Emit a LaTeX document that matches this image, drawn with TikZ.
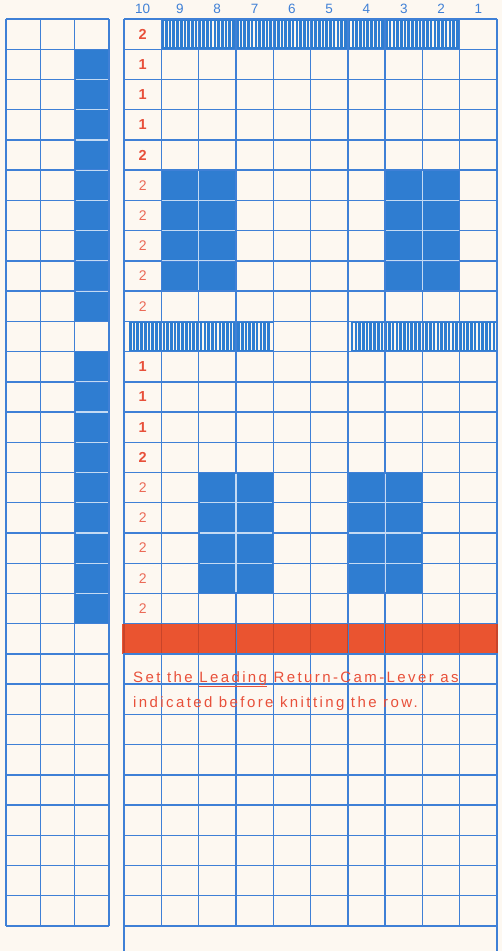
\documentclass[tikz,border=0pt]{standalone}
\usepackage{fontspec}
\setmainfont{Liberation Sans}
\newfontfamily\notefont[LetterSpace=16]{Liberation Sans}
\definecolor{paper}{HTML}{FDF8F1}
\definecolor{gridblue}{HTML}{3F80D6}
\definecolor{fillblue}{HTML}{2F7DD1}
\definecolor{barred}{HTML}{EA5430}
\definecolor{barline}{HTML}{C8442A}
\definecolor{inkred}{HTML}{E8503A}
\definecolor{lightline}{HTML}{C4DAF3}
\begin{document}
\begin{tikzpicture}[x=1pt,y=-1pt,
  gridline/.style={gridblue, line width=1.4pt},
  innerline/.style={lightline, line width=1.2pt},
  redline/.style={barline, line width=1.1pt},
  colnum/.style={text=gridblue, font=\fontsize{13.5}{14}\selectfont, inner sep=0pt},
  rowlbl/.style={text=inkred, font=\fontsize{14.5}{15}\selectfont\bfseries, inner sep=0pt},
  rowlbllight/.style={text=inkred!85, font=\fontsize{14}{14}\selectfont, inner sep=0pt},
  notetext/.style={text=inkred, font=\notefont\fontsize{15}{15}\selectfont, inner sep=0pt, anchor=base west}]
\def\T{19}\def\H{30.233}\def\L{124}\def\W{37.3}\def\R{497}\def\B{926}
\def\LL{6}\def\LW{34.333}
\useasboundingbox (0,0) rectangle (502,951);
\fill[paper] (0,0) rectangle (502,951);
% left grid blue column
\fill[fillblue] (\LL+2*\LW,\T+\H) rectangle (\LL+3*\LW,\T+10*\H);
\fill[fillblue] (\LL+2*\LW,\T+11*\H) rectangle (\LL+3*\LW,\T+20*\H);
% right grid blue blocks
\fill[fillblue] (\L+\W,\T+5*\H) rectangle (\L+3*\W,\T+9*\H);
\fill[fillblue] (\L+7*\W,\T+5*\H) rectangle (\L+9*\W,\T+9*\H);
\fill[fillblue] (\L+2*\W,\T+15*\H) rectangle (\L+4*\W,\T+19*\H);
\fill[fillblue] (\L+6*\W,\T+15*\H) rectangle (\L+8*\W,\T+19*\H);
% hatched rows
\foreach \i in {0,...,79}
  \fill[fillblue] ({\L+\W+\i*\W/10},\T) rectangle ++(2.6,\H);
\fill[fillblue] (\L+\W,\T-0.8) rectangle (\L+9*\W,\T+1.8);
\fill[fillblue] (\L+\W,\T+\H-1.8) rectangle (\L+9*\W,\T+\H+0.8);
\foreach \i in {0,...,37}
  \fill[fillblue] ({\L+5+\i*\W/10},\T+10*\H) rectangle ++(2.6,\H);
\fill[fillblue] (\L+5,\T+10*\H-0.8) rectangle (\L+4*\W,\T+10*\H+1.8);
\fill[fillblue] (\L+5,\T+11*\H-1.8) rectangle (\L+4*\W,\T+11*\H+0.8);
\foreach \i in {0,...,38}
  \fill[fillblue] ({\L+6*\W+3+\i*\W/10},\T+10*\H) rectangle ++(2.6,\H);
\fill[fillblue] (\L+6*\W+3,\T+10*\H-0.8) rectangle (\R,\T+10*\H+1.8);
\fill[fillblue] (\L+6*\W+3,\T+11*\H-1.8) rectangle (\R,\T+11*\H+0.8);
% red bar
\fill[barred] (\L-2,\T+20*\H) rectangle (\R,\T+21*\H);
% right grid lines
\foreach \k in {1,...,9}
  \draw[gridline] (\L+\k*\W,\T) -- (\L+\k*\W,\B);
\draw[gridline] (\L,\T) -- (\L,951);
\draw[gridline] (\R,\T) -- (\R,951);
\foreach \j in {0,...,30}
  \draw[gridline] (\L,\T+\j*\H) -- (\R,\T+\j*\H);
% left grid lines
\foreach \k in {0,...,3}
  \draw[gridline] (\LL+\k*\LW,\T) -- (\LL+\k*\LW,\B);
\foreach \j in {0,...,30}
  \draw[gridline] (\LL,\T+\j*\H) -- (\LL+3*\LW,\T+\j*\H);
% light lines over blue fills
\foreach \j in {2,...,9,12,13,14,15,16,17,18,19}
  \draw[innerline] (\LL+2*\LW+1,\T+\j*\H) -- (\LL+3*\LW-1,\T+\j*\H);
\foreach \j in {6,7,8} {
  \draw[innerline] (\L+\W+1,\T+\j*\H) -- (\L+3*\W-1,\T+\j*\H);
  \draw[innerline] (\L+7*\W+1,\T+\j*\H) -- (\L+9*\W-1,\T+\j*\H);}
\foreach \j in {16,17,18} {
  \draw[innerline] (\L+2*\W+1,\T+\j*\H) -- (\L+4*\W-1,\T+\j*\H);
  \draw[innerline] (\L+6*\W+1,\T+\j*\H) -- (\L+8*\W-1,\T+\j*\H);}
\draw[innerline] (\L+2*\W,\T+5*\H+1) -- (\L+2*\W,\T+9*\H-1);
\draw[innerline] (\L+8*\W,\T+5*\H+1) -- (\L+8*\W,\T+9*\H-1);
\draw[innerline] (\L+3*\W,\T+15*\H+1) -- (\L+3*\W,\T+19*\H-1);
\draw[innerline] (\L+7*\W,\T+15*\H+1) -- (\L+7*\W,\T+19*\H-1);
% lines through red bar
\foreach \k in {0,...,10}
  \draw[redline] (\L+\k*\W,\T+20*\H+0.6) -- (\L+\k*\W,\T+21*\H-0.6);
% column numbers
\foreach \k [count=\c from 0] in {10,9,8,7,6,5,4,3,2,1}
  \node[colnum] (col\k) at (\L+\c*\W+0.5*\W,9) {\k};
% row labels
\foreach \r/\v in {0/2,1/1,2/1,3/1,4/2,11/1,12/1,13/1,14/2}
  \node[rowlbl] (row\r) at (\L+0.5*\W,\T+\r*\H+0.5*\H) {\v};
\foreach \r/\v in {5/2,6/2,7/2,8/2,9/2,15/2,16/2,17/2,18/2,19/2}
  \node[rowlbllight] (row\r) at (\L+0.5*\W,\T+\r*\H+0.5*\H) {\v};
% note
\node[notetext] (note1) at (133,682) {Set the \underline{Leading} Return-Cam-Lever as};
\node[notetext] (note2) at (133,707) {indicated before knitting the row.};
\end{tikzpicture}
\end{document}
